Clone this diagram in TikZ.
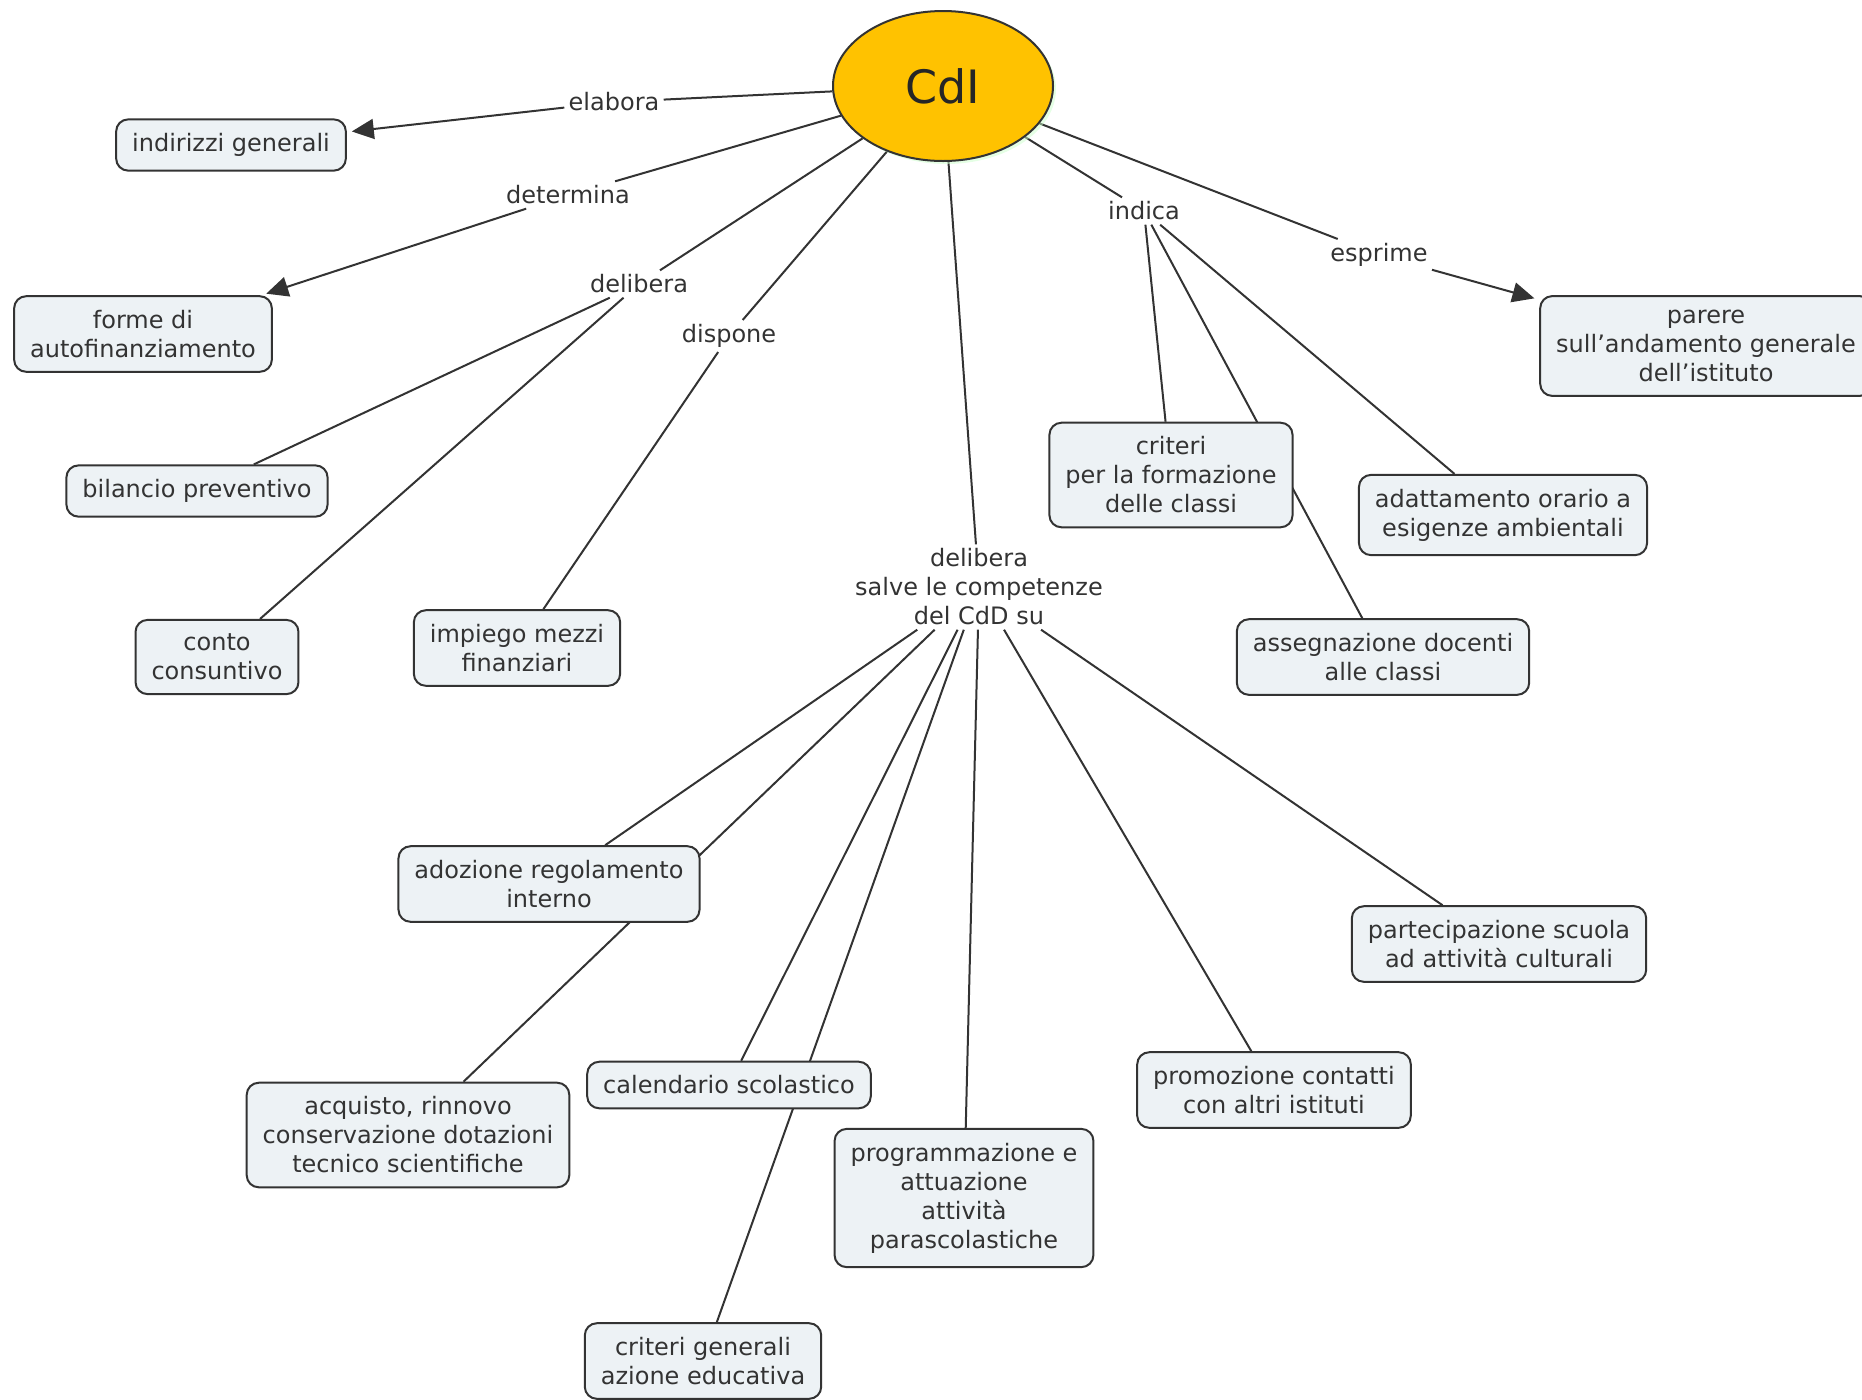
\documentclass[tikz,border=0pt]{standalone}
\usepackage{fontspec}
\setmainfont{DejaVu Sans}
\usetikzlibrary{arrows.meta,positioning,shapes.geometric,backgrounds,shadows}
\definecolor{Gold}{HTML}{FFC200}
\definecolor{Pale}{HTML}{EDF2F5}
\definecolor{Ink}{HTML}{333333}

\begin{document}
\begin{tikzpicture}[x=.5pt,y=-.5pt,
  concept/.style={draw=Ink,line width=1pt,fill=Pale,rounded corners=6pt,align=center,
    inner xsep=8pt,inner ysep=7pt,text=Ink,font=\fontsize{12}{14.5}\selectfont},
  lab/.style={align=center,inner sep=2pt,text=Ink,font=\fontsize{12}{14.5}\selectfont},
  conn/.style={draw=Ink,line width=1pt},
  tip/.style={conn,-{Triangle[length=11pt,width=10pt]},shorten >=2.5pt}]
\useasboundingbox (0,0) rectangle (1862,1399);
% centre
\node[ellipse,draw=Ink,line width=1pt,fill=Gold,minimum width=110pt,minimum height=75pt,
  font=\fontsize{23}{27}\selectfont,text=black!85,
  drop shadow={fill=green!20,shadow xshift=1.5pt,shadow yshift=-1.5pt}] (cdi) at (943,86) {CdI};
% concepts
\node[concept] (ind) at (231,145) {indirizzi generali};
\node[concept] (forme) at (143,334) {forme di\\autofinanziamento};
\node[concept] (bil) at (197,491) {bilancio preventivo};
\node[concept] (conto) at (217,657) {conto\\consuntivo};
\node[concept] (imp) at (517,648) {impiego mezzi\\finanziari};
\node[concept] (par) at (1706,346) {parere\\sull'andamento generale\\dell'istituto};
\node[concept] (crit) at (1171,475) {criteri\\per la formazione\\delle classi};
\node[concept] (adat) at (1503,515) {adattamento orario a\\esigenze ambientali};
\node[concept] (ass) at (1383,657) {assegnazione docenti\\alle classi};
\node[concept] (ado) at (549,884) {adozione regolamento\\interno};
\node[concept] (part) at (1499,944) {partecipazione scuola\\ad attività culturali};
\node[concept] (acq) at (408,1135) {acquisto, rinnovo\\conservazione dotazioni\\tecnico scientifiche};
\node[concept] (cal) at (729,1085) {calendario scolastico};
\node[concept] (prog) at (964,1198) {programmazione e\\attuazione\\attività\\parascolastiche};
\node[concept] (prom) at (1274,1090) {promozione contatti\\con altri istituti};
\node[concept] (cge) at (703,1361) {criteri generali\\azione educativa};
% linking phrases
\node[lab] (elab) at (614,102) {elabora};
\node[lab] (det) at (568,195) {determina};
\node[lab] (del) at (639,284) {delibera};
\node[lab] (disp) at (729,336) {dispone};
\node[lab] (indi) at (1144,211) {indica};
\node[lab] (espr) at (1379,255) {esprime};
\node[lab] (delsu) at (979,587) {delibera\\salve le competenze\\del CdD su};
% connectors
\begin{scope}[on background layer]
\foreach \l in {elab,det,del,disp,indi,espr,delsu} \draw[conn] (cdi) -- (\l);
\draw[tip] (elab) -- (ind);
\draw[tip] (det) -- (forme);
\draw[tip] (espr) -- (par);
\draw[conn] (del) -- (bil);
\draw[conn] (del) -- (conto);
\draw[conn] (disp) -- (imp);
\foreach \t in {crit,ass,adat} \draw[conn] (indi) -- (\t);
\foreach \t in {ado,acq,cal,cge,prog,prom,part} \draw[conn] (delsu) -- (\t);
\end{scope}
\end{tikzpicture}
\end{document}
